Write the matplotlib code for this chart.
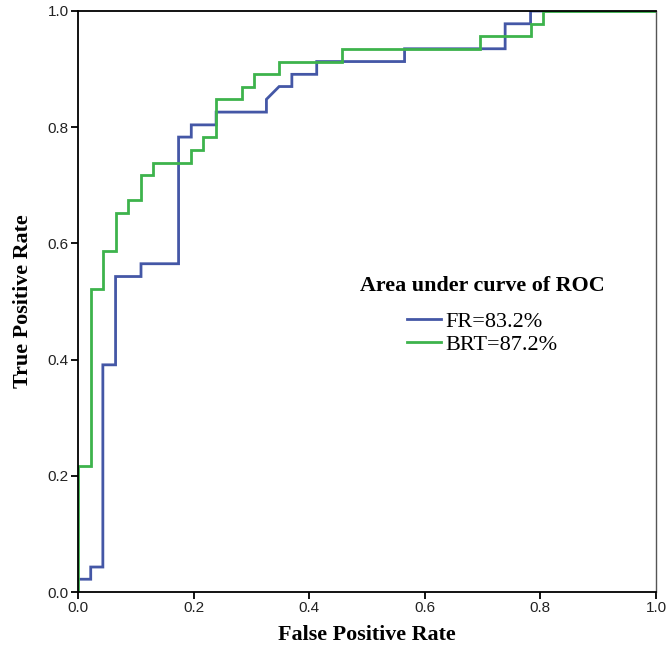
import matplotlib
matplotlib.use("Agg")
import matplotlib.pyplot as plt

# ROC curve points (step curves)
fr_fpr = [0, 0, 0.022, 0.022, 0.043, 0.043, 0.065, 0.065, 0.109, 0.109, 0.174, 0.174,
          0.196, 0.196, 0.239, 0.239, 0.326, 0.326, 0.348, 0.370, 0.370, 0.413, 0.413,
          0.565, 0.565, 0.739, 0.739, 0.783, 0.783, 1.0]
fr_tpr = [0, 0.022, 0.022, 0.043, 0.043, 0.391, 0.391, 0.543, 0.543, 0.565, 0.565, 0.783,
          0.783, 0.804, 0.804, 0.826, 0.826, 0.848, 0.870, 0.870, 0.891, 0.891, 0.913,
          0.913, 0.935, 0.935, 0.978, 0.978, 1.0, 1.0]

brt_fpr = [0, 0, 0.022, 0.022, 0.043, 0.043, 0.065, 0.065, 0.087, 0.087, 0.109, 0.109,
           0.130, 0.130, 0.196, 0.196, 0.217, 0.217, 0.239, 0.239, 0.283, 0.283, 0.304,
           0.304, 0.348, 0.348, 0.457, 0.457, 0.696, 0.696, 0.783, 0.783, 0.804, 0.804, 1.0]
brt_tpr = [0, 0.217, 0.217, 0.522, 0.522, 0.587, 0.587, 0.652, 0.652, 0.674, 0.674, 0.717,
           0.717, 0.739, 0.739, 0.761, 0.761, 0.783, 0.783, 0.848, 0.848, 0.870, 0.870,
           0.891, 0.891, 0.913, 0.913, 0.935, 0.935, 0.957, 0.957, 0.978, 0.978, 1.0, 1.0]

labels = ["FR=83.2%", "BRT=87.2%"]
ticks = [0.0, 0.2, 0.4, 0.6, 0.8, 1.0]
tick_labels = ["0.0", "0.2", "0.4", "0.6", "0.8", "1.0"]

fig = plt.figure(figsize=(6.67, 6.57), dpi=100)
ax = fig.add_axes([78/667, 1 - 592/657, 578/667, 581/657])

ax.plot(fr_fpr, fr_tpr, color="#4457a6", lw=2.0, label=labels[0], solid_joinstyle="miter")
ax.plot(brt_fpr, brt_tpr, color="#3db34c", lw=2.0, label=labels[1], solid_joinstyle="miter")

ax.set_xlim(0, 1)
ax.set_ylim(0, 1)
ax.set_xticks(ticks)
ax.set_yticks(ticks)
ax.set_xticklabels(tick_labels, fontfamily="Liberation Sans", fontsize=11, color="#222222")
ax.set_yticklabels(tick_labels, fontfamily="Liberation Sans", fontsize=11, color="#222222")
ax.tick_params(direction="out", length=5, width=1.3, color="black", pad=1.5)

for side in ["left", "bottom", "top"]:
    ax.spines[side].set_linewidth(1.3)
    ax.spines[side].set_color("black")
ax.spines["right"].set_linewidth(1.0)
ax.spines["right"].set_color("#555555")

ax.set_xlabel("False Positive Rate", fontfamily="Liberation Serif", fontweight="bold",
              fontsize=15.8, labelpad=7)
ax.set_ylabel("True Positive Rate", fontfamily="Liberation Serif", fontweight="bold",
              fontsize=15.8, labelpad=11)

leg = ax.legend(loc="center", bbox_to_anchor=(0.699, 0.4755), frameon=False,
                title="Area under curve of ROC",
                prop={"family": "Liberation Serif", "size": 16},
                handlelength=1.55, handletextpad=0.2, labelspacing=0.1,
                borderpad=0.0)
leg.get_title().set_fontfamily("Liberation Serif")
leg.get_title().set_fontweight("bold")
leg.get_title().set_fontsize(15.8)
leg._legend_box.sep = 11

fig.savefig("out.png", dpi=100)
